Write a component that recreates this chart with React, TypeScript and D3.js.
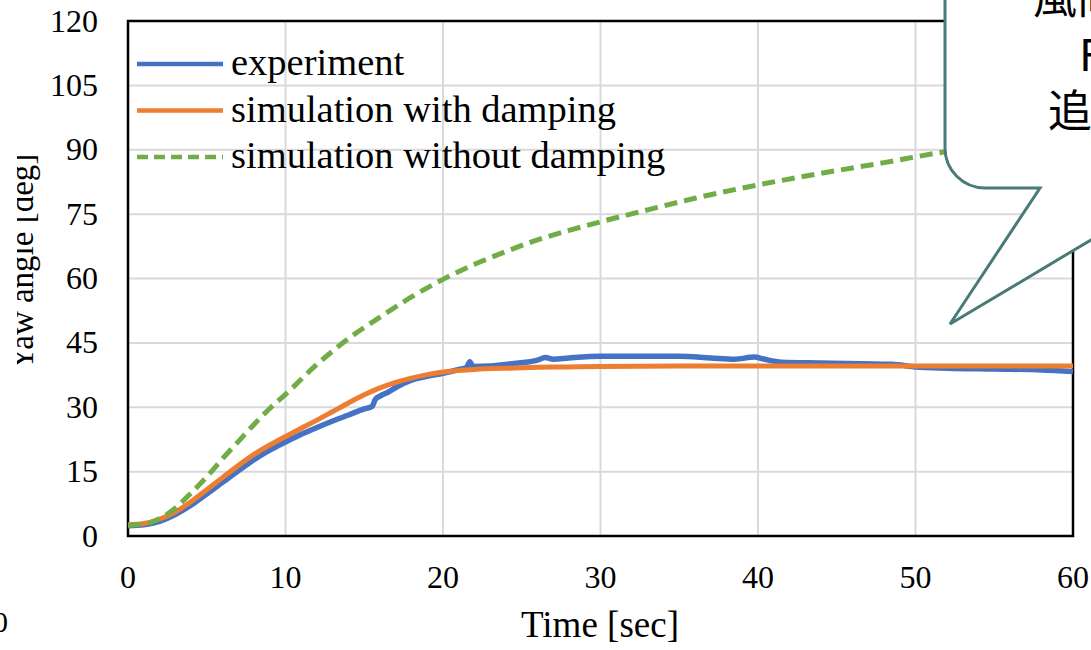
import * as d3 from 'd3';
import React from 'react';

// experiment (measured yaw angle)
const expTime = [0, 1, 2, 3, 4, 5, 6, 7, 8, 9, 10, 11, 12, 13, 14, 15, 15.5, 15.7, 16, 16.5, 17, 18, 19, 20, 21, 21.5, 21.7, 21.9, 23, 24.5, 26, 26.5, 27, 28, 30, 32, 35, 37, 38.5, 39.8, 40.3, 41.5, 44, 48.5, 50, 52, 55, 58, 60];
const expValue = [2.4, 2.6, 3.4, 5.0, 7.2, 9.8, 12.5, 15.2, 17.8, 20.0, 21.9, 23.7, 25.3, 26.8, 28.2, 29.6, 30.2, 31.8, 32.6, 33.5, 34.6, 36.3, 37.2, 37.9, 38.8, 39.3, 40.6, 39.5, 39.6, 40.2, 41.0, 41.6, 41.2, 41.5, 41.9, 41.9, 41.9, 41.5, 41.2, 41.7, 41.3, 40.5, 40.3, 40.0, 39.4, 39.1, 38.9, 38.7, 38.3];

// simulation with damping
const dampTime = [0, 1, 2, 3, 4, 5, 6, 7, 8, 9, 10, 11, 12, 13, 14, 15, 16, 17, 18, 19, 20, 22, 24, 26, 28, 30, 35, 40, 45, 50, 55, 60];
const dampValue = [2.6, 2.9, 3.9, 5.6, 8.0, 10.8, 13.6, 16.4, 19.0, 21.2, 23.2, 25.1, 27.0, 29.0, 31.0, 32.9, 34.5, 35.8, 36.8, 37.6, 38.2, 38.8, 39.1, 39.3, 39.4, 39.5, 39.6, 39.6, 39.6, 39.6, 39.6, 39.6];

// simulation without damping
const freeTime = [0, 1, 2, 3, 4, 5, 6, 7, 8, 9, 10, 12, 14, 16, 18, 20, 22, 24, 26, 28, 30, 33, 36, 40, 44, 48, 52, 56, 60];
const freeValue = [2.5, 2.8, 4.0, 6.5, 10.0, 13.8, 18.0, 22.0, 26.0, 29.7, 33.0, 40.0, 46.0, 51.0, 55.7, 59.8, 63.3, 66.3, 69.0, 71.2, 73.2, 76.0, 78.7, 81.8, 84.5, 87.0, 89.6, 91.5, 93.0];

const xTicks = [0, 10, 20, 30, 40, 50, 60];
const yTicks = [0, 15, 30, 45, 60, 75, 90, 105, 120];
const legendLabels = ['experiment', 'simulation with damping', 'simulation without damping'];
const calloutLines = ['風向変化に', 'FRP', '追従する'];

const serif = '"Liberation Serif", "Times New Roman", serif';
const colors = ['#4472C4', '#ED7D31', '#70AD47'];

const App = () => {
  const x = d3.scaleLinear().domain([0, 60]).range([128, 1073]);
  const y = d3.scaleLinear().domain([0, 120]).range([536, 21]);

  const line = d3.line<[number, number]>()
    .x(d => x(d[0]))
    .y(d => y(d[1]))
    .curve(d3.curveMonotoneX);

  const series = [
    { pts: expTime.map((t, i) => [t, expValue[i]] as [number, number]), dash: undefined, w: 5.5 },
    { pts: dampTime.map((t, i) => [t, dampValue[i]] as [number, number]), dash: undefined, w: 5 },
    { pts: freeTime.map((t, i) => [t, freeValue[i]] as [number, number]), dash: '13 7', w: 5 },
  ];

  // speech bubble (runs off the top/right of the picture)
  const L = 945, B = 188, r = 40, R = 1300;
  const bubble = `M${L},-60 L${L},${B - r} A${r},${r} 0 0 0 ${L + r},${B} L1040,${B} L950,324 L1178,${B} L${R},${B} L${R},-60 Z`;

  return (
    <div style={{ position: 'fixed', left: 0, top: 0 }}>
      <svg width={1091} height={650} style={{ display: 'block', background: '#fff' }}>
        <defs>
          <clipPath id="ylabClip">
            <rect x={17} y={0} width={60} height={650} />
          </clipPath>
        </defs>
        {/* grid */}
        <g stroke="#d9d9d9" strokeWidth={2}>
          {yTicks.map(t => <line key={'gy' + t} x1={x(0)} x2={x(60)} y1={y(t)} y2={y(t)} />)}
          {xTicks.map(t => <line key={'gx' + t} x1={x(t)} x2={x(t)} y1={y(0)} y2={y(120)} />)}
        </g>
        <rect x={x(0)} y={y(120)} width={x(60) - x(0)} height={y(0) - y(120)} fill="none" stroke="#000" strokeWidth={2.5} />

        {series.map((s, i) => (
          <path key={i} d={line(s.pts) || ''} fill="none" stroke={colors[i]} strokeWidth={s.w}
            strokeDasharray={s.dash} strokeLinejoin="round" />
        ))}

        {/* legend */}
        {legendLabels.map((lab, i) => (
          <g key={lab} transform={`translate(0,${64 + i * 46.5})`}>
            <line x1={137} x2={223} y1={0} y2={0} stroke={colors[i]} strokeWidth={4.5}
              strokeDasharray={i === 2 ? '11 6' : undefined} />
            <text x={231} y={11} fontFamily={serif} fontSize={38.5} fill="#000">{lab}</text>
          </g>
        ))}

        {/* axes labels */}
        {yTicks.map(t => (
          <text key={'ty' + t} x={98} y={y(t) + 10.5} textAnchor="end" fontFamily={serif} fontSize={32}>{t}</text>
        ))}
        {xTicks.map(t => (
          <text key={'tx' + t} x={x(t)} y={588} textAnchor="middle" fontFamily={serif} fontSize={32}>{t}</text>
        ))}
        <text x={600} y={637} textAnchor="middle" fontFamily={serif} fontSize={37}>Time [sec]</text>
        <g clipPath="url(#ylabClip)">
          <text transform="translate(33,262) rotate(-90)" textAnchor="middle" fontFamily={serif} fontSize={33}>Yaw angle [deg]</text>
        </g>
        <text x={-7} y={632} fontFamily={serif} fontSize={30}>0</text>

        {/* callout */}
        <path d={bubble} fill="#fff" stroke="#4A7A77" strokeWidth={3} strokeLinejoin="miter" />
        <g fontFamily='"Noto Sans CJK JP", sans-serif' fontSize={44} fill="#000">
          <text x={1033} y={14}>{calloutLines[0]}</text>
          <text x={1079} y={71}>{calloutLines[1]}</text>
          <text x={1048} y={127}>{calloutLines[2]}</text>
        </g>
      </svg>
    </div>
  );
};

export default App;
